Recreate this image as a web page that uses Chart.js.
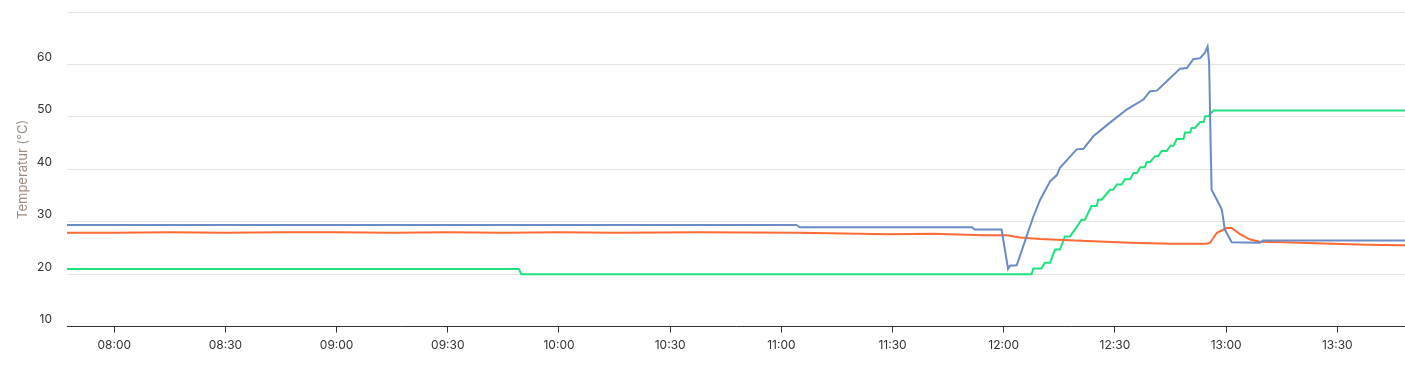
<!DOCTYPE html>
<html>
<head>
<meta charset="utf-8">
<script src="https://cdn.jsdelivr.net/npm/chart.js@4.4.1/dist/chart.umd.min.js"></script>
<style>
  html, body { margin: 0; padding: 0; background: #fff; }
  #wrap { width: 1405px; height: 371px; position: relative; }
</style>
</head>
<body>
<div id="wrap"><canvas id="tempChart"></canvas></div>
<script>
// time axis range and tick labels
const axisStart = '07:47:15';
const axisEnd = '13:48:16';
const xTickLabels = ['08:00', '08:30', '09:00', '09:30', '10:00', '10:30', '11:00', '11:30', '12:00', '12:30', '13:00', '13:30'];
const yTickValues = [10, 20, 30, 40, 50, 60, 70];

// blue series
const blueTimes = ['07:47', '11:04', '11:05', '11:51:25', '11:52:10', '11:59:25', '12:01:10', '12:01:40', '12:03:30',
  '12:06:10', '12:08', '12:09:50', '12:12:30', '12:14:20', '12:15:10', '12:19:40', '12:21:30', '12:24:10', '12:28:40',
  '12:33:10', '12:37:40', '12:39:30', '12:41:20', '12:44', '12:47:35', '12:49:25', '12:51:10', '12:53', '12:54:20',
  '12:55', '12:55:25', '12:55:50', '12:56:05', '12:57:30', '12:58:50', '12:59:40', '13:01:30', '13:09:05', '13:10', '13:49'];
const blueValues = [29.4, 29.4, 28.95, 28.95, 28.5, 28.5, 21.0, 21.6, 21.7,
  27.2, 31.0, 34.2, 37.7, 38.9, 40.3, 43.8, 43.9, 46.3, 48.9,
  51.4, 53.3, 54.9, 55.0, 56.8, 59.2, 59.3, 61.0, 61.2, 62.3,
  63.4, 60.3, 44.4, 36.1, 34.2, 32.3, 28.5, 26.1, 26.0, 26.4, 26.4];

// orange series
const orangeTimes = ['07:47', '08:00', '08:15', '08:30', '08:45', '09:00', '09:15', '09:30', '09:45', '10:00', '10:15',
  '10:38', '11:05', '11:29', '11:41', '11:54:25', '12:00:50', '12:04:25', '12:09:50', '12:16', '12:34:05', '12:44:55',
  '12:54:50', '12:55:40', '12:57:30', '13:00:10', '13:01:30', '13:03:50', '13:06:30', '13:09:05', '13:15:25',
  '13:28:50', '13:37:55', '13:46:55', '13:49'];
const orangeValues = [27.9, 27.9, 28.0, 27.9, 28.0, 28.0, 27.9, 28.0, 27.9, 28.0, 27.9,
  28.0, 27.9, 27.6, 27.7, 27.4, 27.4, 27.0, 26.7, 26.5, 26.0, 25.8,
  25.8, 26.0, 27.9, 28.8, 28.8, 27.6, 26.6, 26.2, 26.1,
  25.8, 25.6, 25.5, 25.5];

// green series
const greenTimes = ['07:47', '09:49:10', '09:49:50', '12:07:30',
  '12:08:00', '12:10:10', '12:11:05', '12:12:30', '12:13:50', '12:15:10', '12:16:30', '12:17:55',
  '12:21:00', '12:21:55', '12:23:40', '12:25:05', '12:25:30', '12:26:25', '12:28:40', '12:29:35',
  '12:30:30', '12:31:50', '12:32:40', '12:34:05', '12:35:00', '12:35:55', '12:36:50', '12:38:05',
  '12:38:35', '12:39:30', '12:40:50', '12:41:40', '12:42:35', '12:44:00', '12:44:55', '12:45:50',
  '12:46:40', '12:48:30', '12:48:55', '12:50:20', '12:50:40', '12:51:35', '12:53:00', '12:53:55',
  '12:54:20', '12:55:10', '12:56:35', '13:49'];
const greenValues = [21.0, 21.0, 20.0, 20.0,
  21.1, 21.1, 22.2, 22.2, 24.7, 24.7, 27.2, 27.2,
  30.4, 30.4, 33.0, 33.0, 34.2, 34.2, 36.1, 36.1,
  37.1, 37.1, 38.1, 38.1, 39.3, 39.3, 40.4, 40.4,
  41.4, 41.4, 42.5, 42.5, 43.5, 43.5, 44.5, 44.5,
  45.8, 45.8, 47.0, 47.0, 47.9, 47.9, 49.0, 49.0,
  50.1, 50.1, 51.2, 51.2];

function toMin(s) {
  const p = s.split(':').map(Number);
  return p[0] * 60 + p[1] + (p[2] || 0) / 60;
}
function fmt(m) {
  const h = Math.floor(m / 60), mm = Math.round(m % 60);
  return String(h).padStart(2, '0') + ':' + String(mm).padStart(2, '0');
}
function points(times, values) {
  return times.map((t, i) => ({ x: toMin(t), y: values[i] }));
}

const ctx = document.getElementById('tempChart').getContext('2d');
const fontColor = '#333';

const data = {
  datasets: [
    { label: 'Blau', data: points(blueTimes, blueValues), borderColor: '#6a8bc6' },
    { label: 'Orange', data: points(orangeTimes, orangeValues), borderColor: '#ff6a35' },
    { label: 'Grün', data: points(greenTimes, greenValues), borderColor: '#1ee27c' }
  ].map(d => Object.assign(d, { borderWidth: 2, pointRadius: 0, tension: 0, fill: false }))
};

new Chart(ctx, {
  type: 'line',
  data: data,
  options: {
    responsive: true,
    maintainAspectRatio: false,
    animation: false,
    layout: { padding: { top: 12, right: 0, left: 0, bottom: 12 } },
    plugins: { legend: { display: false }, tooltip: { enabled: false } },
    scales: {
      x: {
        type: 'linear',
        min: toMin(axisStart),
        max: toMin(axisEnd),
        afterBuildTicks: scale => {
          scale.ticks = xTickLabels.map(t => ({ value: toMin(t) }));
        },
        ticks: {
          color: fontColor,
          font: { family: 'Inter', size: 12 },
          padding: 6,
          maxRotation: 0,
          autoSkip: false,
          callback: v => fmt(v)
        },
        grid: { drawOnChartArea: false, tickLength: 6, tickColor: '#333' },
        border: { color: '#333', width: 1 }
      },
      y: {
        min: 10,
        max: 70,
        afterBuildTicks: scale => {
          scale.ticks = yTickValues.map(v => ({ value: v }));
        },
        afterFit: scale => {
          scale.width = 67;
          scale.paddingTop = 0;
          scale.paddingBottom = 0;
        },
        ticks: {
          color: fontColor,
          font: { family: 'Inter', size: 12 },
          padding: 15,
          labelOffset: -7,
          callback: v => (v === 70 ? '' : v)
        },
        grid: { color: '#e6e6e6', drawTicks: false },
        border: { display: false },
        title: {
          display: true,
          text: 'Temperatur (°C)',
          color: '#9c8b7f',
          font: { family: 'Inter', size: 13 },
          padding: { top: 15, bottom: 0 }
        }
      }
    }
  }
});
</script>
</body>
</html>
